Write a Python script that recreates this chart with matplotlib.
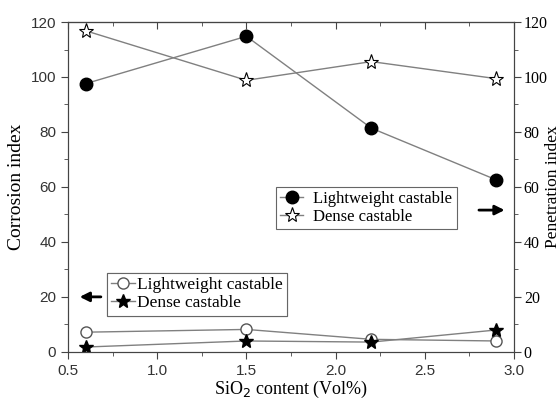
import matplotlib
matplotlib.use("Agg")
import matplotlib.pyplot as plt
from matplotlib.ticker import MultipleLocator

# SiO2 content (Vol%)
sio2 = [0.6, 1.5, 2.2, 2.9]

# corrosion index (left axis)
corr_light = [7.2, 8.2, 4.6, 4.0]
corr_dense = [1.8, 4.0, 3.6, 8.0]

# penetration index (right axis)
pen_light = [97.6, 114.8, 81.4, 62.6]
pen_dense = [116.8, 98.8, 105.6, 99.4]

yticks = [0, 20, 40, 60, 80, 100, 120]
xticks = [0.5, 1.0, 1.5, 2.0, 2.5, 3.0]

serif = "Liberation Serif"
sans = "Liberation Sans"
line_col = "#808080"
axis_col = "#444444"

fig = plt.figure(figsize=(5.6, 4.03), dpi=100)
ax = fig.add_axes([0.1214, 0.1266, 0.7966, 0.8188])
ax2 = ax.twinx()

# lower curves -> corrosion index
l1, = ax.plot(sio2, corr_light, color=line_col, lw=1, marker="o", ms=8,
              mfc="white", mec="#555555", mew=1)
l2, = ax.plot(sio2, corr_dense, color=line_col, lw=1, marker="*", ms=10,
              mfc="black", mec="black")

# upper curves -> penetration index
l3, = ax2.plot(sio2, pen_light, color=line_col, lw=1, marker="o", ms=9,
               mfc="black", mec="black")
l4, = ax2.plot(sio2, pen_dense, color=line_col, lw=1, marker="*", ms=11,
               mfc="white", mec="black", mew=0.8)

for a in (ax, ax2):
    a.set_ylim(0, 120)
    a.set_yticks(yticks)
    a.yaxis.set_minor_locator(MultipleLocator(10))
ax.set_xlim(0.5, 3.0)
ax.set_xticks(xticks)
ax.xaxis.set_minor_locator(MultipleLocator(0.25))

ax.tick_params(which="major", direction="out", length=5, color=axis_col)
ax.tick_params(which="minor", direction="out", length=3, color=axis_col)
ax2.tick_params(axis="y", which="major", direction="out", length=5, color=axis_col, pad=2)
ax2.tick_params(axis="y", which="minor", direction="out", length=3, color=axis_col)

# top axis: ticks pointing inward, no labels
top = ax.secondary_xaxis("top")
top.set_xticks(xticks)
top.xaxis.set_minor_locator(MultipleLocator(0.25))
top.tick_params(which="major", direction="in", length=5, color=axis_col, labeltop=False)
top.tick_params(which="minor", direction="in", length=3, color=axis_col)
top.spines["top"].set_color(axis_col)

ax.set_xticklabels(["0.5", "1.0", "1.5", "2.0", "2.5", "3.0"],
                   fontfamily=sans, fontsize=11, color="#333333")
ax.set_yticklabels([str(v) for v in yticks], fontfamily=sans, fontsize=11, color="#333333")
ax2.set_yticklabels([str(v) for v in yticks], fontfamily=serif, fontsize=11.5)

for s in ax.spines.values():
    s.set_color(axis_col)
for s in ax2.spines.values():
    s.set_color(axis_col)

ax.set_xlabel("SiO$_2$ content (Vol%)", fontfamily=serif, fontsize=13, labelpad=1)
ax.set_ylabel("Corrosion index", fontfamily=serif, fontsize=14, labelpad=4)
ax2.set_ylabel("Penetration index", fontfamily=serif, fontsize=12.5)
ax2.yaxis.set_label_coords(1.069, 0.5)

leg1 = ax.legend([l1, l2], ["Lightweight castable", "Dense castable"],
                 loc="upper left", bbox_to_anchor=(0.087, 0.24),
                 prop={"family": serif, "size": 12.5}, handlelength=1.4,
                 handletextpad=0.1, labelspacing=0.1, borderpad=0.25,
                 fancybox=False, edgecolor="#666666", framealpha=1,
                 borderaxespad=0)
leg1.get_frame().set_linewidth(0.8)
ax.add_artist(leg1)

leg2 = ax2.legend([l3, l4], ["Lightweight castable", "Dense castable"],
                  loc="upper left", bbox_to_anchor=(0.466, 0.5),
                  prop={"family": serif, "size": 12}, handlelength=1.4,
                  handletextpad=0.6, labelspacing=0.1, borderpad=0.25,
                  fancybox=False, edgecolor="#666666", framealpha=1,
                  borderaxespad=0)
leg2.get_frame().set_linewidth(0.8)

# arrows pointing to the axis each legend belongs to
ax.annotate("", xy=(0.02, 0.167), xytext=(0.08, 0.167), xycoords="axes fraction",
            arrowprops=dict(arrowstyle="-|>", color="black", lw=2, mutation_scale=14))
ax2.annotate("", xy=(0.985, 0.43), xytext=(0.915, 0.43), xycoords="axes fraction",
             arrowprops=dict(arrowstyle="-|>", color="black", lw=2, mutation_scale=14))

fig.savefig("out.png", dpi=100)
